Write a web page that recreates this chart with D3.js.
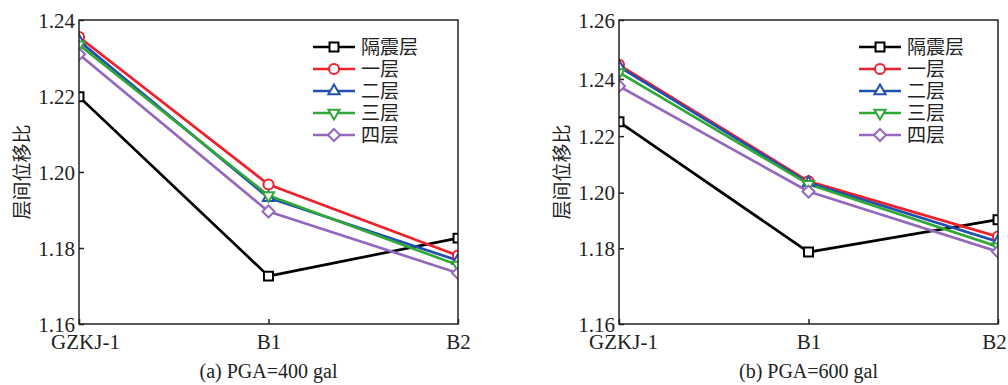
<!DOCTYPE html>
<html>
<head>
<meta charset="utf-8">
<script src="https://cdn.jsdelivr.net/npm/d3@7"></script>
<style>
  body { margin: 0; background: #fff; }
  svg { display: block; }
</style>
</head>
<body>
<svg id="viz" width="1008" height="385"></svg>
<script>
// categories and series
const categories = ["GZKJ-1", "B1", "B2"];
const seriesNames = ["隔震层", "一层", "二层", "三层", "四层"];
const seriesColors = ["#000000", "#f0202a", "#2050b0", "#30a838", "#9468bd"];
const seriesSymbols = ["square", "circle", "triangle", "triangleDown", "diamond"];

// (a) PGA=400 gal
const pga400Isolation = [1.2198, 1.1726, 1.1826];
const pga400Floor1 = [1.2355, 1.1967, 1.1780];
const pga400Floor2 = [1.2345, 1.1932, 1.1767];
const pga400Floor3 = [1.2335, 1.1938, 1.1755];
const pga400Floor4 = [1.2310, 1.1896, 1.1734];
const ticks400 = [1.16, 1.18, 1.20, 1.22, 1.24];

// (b) PGA=600 gal
const pga600Isolation = [1.2250, 1.1790, 1.1903];
const pga600Floor1 = [1.2448, 1.2040, 1.1842];
const pga600Floor2 = [1.2442, 1.2035, 1.1824];
const pga600Floor3 = [1.2422, 1.2030, 1.1806];
const pga600Floor4 = [1.2375, 1.2004, 1.1791];
const ticks600 = [1.16, 1.18, 1.20, 1.22, 1.24, 1.26];

const svg = d3.select("#viz");
const serif = "'Liberation Serif', 'Times New Roman', serif";
const cjk = "'Noto Sans CJK SC', sans-serif";

const charts = [
    {
        id: "a", left: 79, right: 458, caption: "(a) PGA=400 gal",
        series: [pga400Isolation, pga400Floor1, pga400Floor2, pga400Floor3, pga400Floor4],
        ticks: ticks400, tickFrac: null, legendX: 234, labelDx: [6, 0, 0]
    },
    {
        id: "b", left: 619, right: 998, caption: "(b) PGA=600 gal",
        series: [pga600Isolation, pga600Floor1, pga600Floor2, pga600Floor3, pga600Floor4],
        // the printed axis of (b) is not evenly spaced, so map ticks piecewise
        ticks: ticks600, tickFrac: [0, 0.249, 0.432, 0.618, 0.806, 1], legendX: 240, labelDx: [4, 0, -4]
    }
];

const plotTop = 20, plotBottom = 324;

function symbolPath(kind) {
    if (kind === "square") return d3.symbol(d3.symbolSquare, 80)();
    if (kind === "circle") return d3.symbol(d3.symbolCircle, 80)();
    if (kind === "diamond") return d3.symbol(d3.symbolSquare, 72)();
    return d3.symbol(d3.symbolTriangle, 55)();
}
function symbolRotate(kind) {
    if (kind === "triangleDown") return 180;
    if (kind === "diamond") return 45;
    return 0;
}

charts.forEach((c) => {
    const w = c.right - c.left;
    const h = plotBottom - plotTop;
    const g = svg.append("g").attr("transform", `translate(${c.left},${plotTop})`);

    const x = d3.scalePoint().domain(categories).range([0, w]).padding(0);
    const y = c.tickFrac
        ? d3.scaleLinear().domain(c.ticks).range(c.tickFrac.map((f) => h * (1 - f)))
        : d3.scaleLinear().domain([c.ticks[0], c.ticks[c.ticks.length - 1]]).range([h, 0]);

    svg.append("clipPath").attr("id", "clip-" + c.id)
        .append("rect").attr("width", w).attr("height", h);

    // axes with inward ticks
    const yAxis = g.append("g")
        .call(d3.axisLeft(y).tickValues(c.ticks).tickFormat(d3.format(".2f")).tickSizeInner(-5).tickSizeOuter(0).tickPadding(4));
    yAxis.select(".domain").remove();
    yAxis.selectAll("line").attr("stroke", "#222").attr("stroke-width", 1.5);
    yAxis.selectAll("text").attr("font-family", serif).attr("font-size", 21).attr("fill", "#222")
        .attr("x", -4).attr("dy", "0.34em");

    const xAxis = g.append("g").attr("transform", `translate(0,${h})`)
        .call(d3.axisBottom(x).tickSizeInner(-5).tickSizeOuter(0).tickPadding(4));
    xAxis.select(".domain").remove();
    xAxis.selectAll("line").attr("stroke", "#222").attr("stroke-width", 1.5);
    xAxis.selectAll("text").attr("font-family", serif).attr("font-size", 21).attr("fill", "#222")
        .attr("y", 10).attr("dy", "0.71em")
        .attr("dx", (d, i) => c.labelDx[i]);

    // lines and markers
    const plot = g.append("g").attr("clip-path", `url(#clip-${c.id})`);
    const line = d3.line().x((d, i) => x(categories[i])).y((d) => y(d));
    c.series.forEach((vals, s) => {
        plot.append("path").datum(vals)
            .attr("d", line)
            .attr("fill", "none")
            .attr("stroke", seriesColors[s])
            .attr("stroke-width", 2.7)
            .attr("stroke-linejoin", "round");
    });
    c.series.forEach((vals, s) => {
        plot.selectAll(null).data(vals).enter()
            .append("path")
            .attr("d", symbolPath(seriesSymbols[s]))
            .attr("transform", (d, i) => `translate(${x(categories[i])},${y(d)}) rotate(${symbolRotate(seriesSymbols[s])})`)
            .attr("fill", "#fff")
            .attr("stroke", seriesColors[s])
            .attr("stroke-width", 2);
    });

    // frame
    g.append("rect").attr("width", w).attr("height", h)
        .attr("fill", "none").attr("stroke", "#222").attr("stroke-width", 1.5);

    // legend
    const lg = g.append("g").attr("transform", `translate(${c.legendX},27)`);
    seriesNames.forEach((name, s) => {
        const row = lg.append("g").attr("transform", `translate(0,${s * 22})`);
        row.append("line").attr("x1", 0).attr("x2", 42)
            .attr("stroke", seriesColors[s]).attr("stroke-width", 2.7);
        row.append("path")
            .attr("d", symbolPath(seriesSymbols[s]))
            .attr("transform", `translate(21,0) rotate(${symbolRotate(seriesSymbols[s])})`)
            .attr("fill", "#fff").attr("stroke", seriesColors[s]).attr("stroke-width", 2);
        row.append("text").attr("x", 48).attr("dy", "0.36em")
            .attr("font-family", cjk).attr("font-size", 19).attr("fill", "#222")
            .text(name);
    });

    // y label
    svg.append("text")
        .attr("transform", `translate(${c.left - 57},${plotTop + h / 2}) rotate(-90)`)
        .attr("text-anchor", "middle").attr("dy", "0.36em")
        .attr("font-family", cjk).attr("font-size", 19).attr("fill", "#222")
        .text("层间位移比");

    // caption
    svg.append("text")
        .attr("x", c.left + w / 2).attr("y", 378)
        .attr("text-anchor", "middle")
        .attr("font-family", serif).attr("font-size", 20).attr("fill", "#222")
        .text(c.caption);
});
</script>
</body>
</html>
